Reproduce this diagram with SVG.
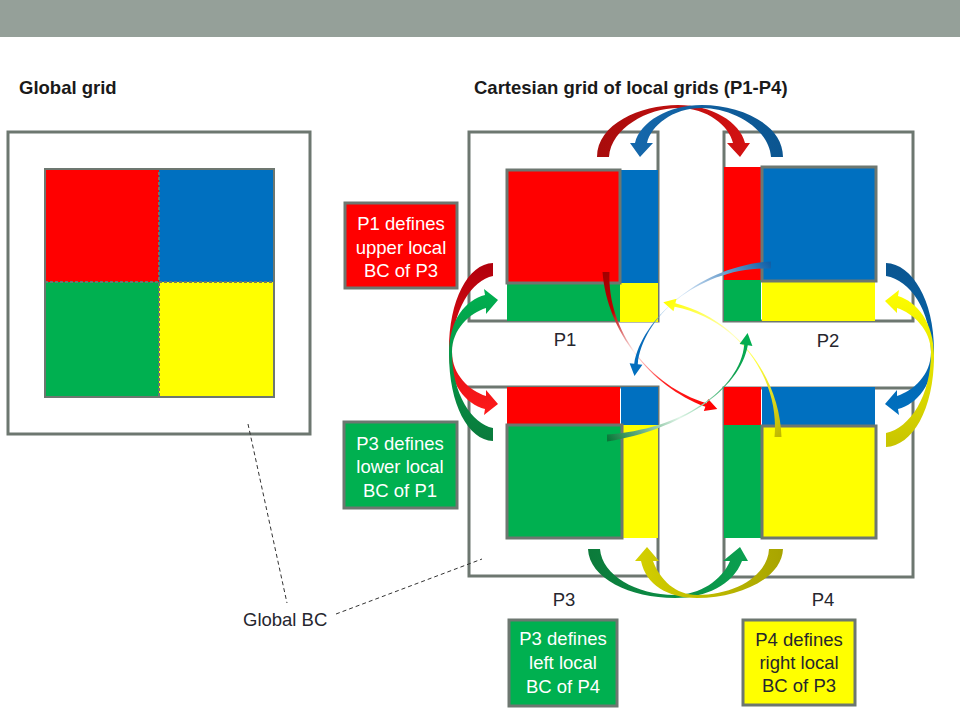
<svg xmlns="http://www.w3.org/2000/svg" width="960" height="720" viewBox="0 0 960 720">
<style>
.box{fill:none;stroke:#6D7770;stroke-width:3}
.bord{stroke:#6D7770;stroke-width:3}
.r{fill:#FF0000}.b{fill:#0070C0}.g{fill:#00B050}.y{fill:#FFFF00}
.t{font-family:"Liberation Sans",Arial,sans-serif;font-size:18.5px;fill:#26262E}
.title{font-weight:bold;fill:#1A1A1A}
.c{text-anchor:middle}
.w{fill:#FFFFFF}
.dash{fill:none;stroke:#333333;stroke-width:1;stroke-dasharray:4,3}
</style>
<defs>
<linearGradient id="gRt" gradientUnits="userSpaceOnUse" x1="597" y1="0" x2="750" y2="0"><stop offset="0" stop-color="#A80C0C"/><stop offset="1" stop-color="#D41212"/></linearGradient>
<linearGradient id="gBt" gradientUnits="userSpaceOnUse" x1="783" y1="0" x2="630" y2="0"><stop offset="0" stop-color="#0B5590"/><stop offset="1" stop-color="#1568AC"/></linearGradient>
<linearGradient id="gRl" gradientUnits="userSpaceOnUse" x1="0" y1="263" x2="0" y2="415"><stop offset="0" stop-color="#B0000C"/><stop offset="1" stop-color="#FF1A1A"/></linearGradient>
<linearGradient id="gGl" gradientUnits="userSpaceOnUse" x1="0" y1="441" x2="0" y2="289"><stop offset="0" stop-color="#0A7A3C"/><stop offset="1" stop-color="#00B050"/></linearGradient>
<linearGradient id="gBr" gradientUnits="userSpaceOnUse" x1="0" y1="263" x2="0" y2="415"><stop offset="0" stop-color="#0B5590"/><stop offset="1" stop-color="#0070C0"/></linearGradient>
<linearGradient id="gYr" gradientUnits="userSpaceOnUse" x1="0" y1="447" x2="0" y2="289"><stop offset="0" stop-color="#C8C400"/><stop offset="1" stop-color="#FFFF00"/></linearGradient>
<linearGradient id="gGb" gradientUnits="userSpaceOnUse" x1="588" y1="0" x2="748" y2="0"><stop offset="0" stop-color="#0C7A3A"/><stop offset="1" stop-color="#0AA050"/></linearGradient>
<linearGradient id="gYb" gradientUnits="userSpaceOnUse" x1="783" y1="0" x2="635" y2="0"><stop offset="0" stop-color="#A8A400"/><stop offset="1" stop-color="#D4D000"/></linearGradient>
<linearGradient id="gRc" gradientUnits="userSpaceOnUse" x1="606" y1="272" x2="717" y2="409"><stop offset="0" stop-color="#A00000"/><stop offset="0.2" stop-color="#C00000"/><stop offset="0.45" stop-color="#FFF0F0"/><stop offset="0.7" stop-color="#FF2020"/><stop offset="1" stop-color="#FF0000"/></linearGradient>
<linearGradient id="gBc" gradientUnits="userSpaceOnUse" x1="771" y1="265" x2="634" y2="376"><stop offset="0" stop-color="#1060A8"/><stop offset="0.5" stop-color="#D8E8F8"/><stop offset="0.8" stop-color="#0A6AB8"/><stop offset="1" stop-color="#0070C0"/></linearGradient>
<linearGradient id="gYc" gradientUnits="userSpaceOnUse" x1="778" y1="437" x2="663" y2="302"><stop offset="0" stop-color="#C0B800"/><stop offset="0.4" stop-color="#FFFF40"/><stop offset="0.6" stop-color="#FFFFC0"/><stop offset="1" stop-color="#FFFF00"/></linearGradient>
<linearGradient id="gGc" gradientUnits="userSpaceOnUse" x1="607" y1="438" x2="748" y2="333"><stop offset="0" stop-color="#087838"/><stop offset="0.4" stop-color="#E0F5E8"/><stop offset="0.8" stop-color="#10A050"/><stop offset="1" stop-color="#00B050"/></linearGradient>
</defs>
<rect x="0" y="0" width="960" height="37" fill="#95A099"/>
<text class="t title" x="19" y="94">Global grid</text>
<text class="t title" x="474" y="94">Cartesian grid of local grids (P1-P4)</text>
<g id="global-grid">
<rect class="box" x="8" y="132" width="302" height="302"/>
<rect class="r" x="45" y="169" width="114" height="113"/>
<rect class="b" x="159" y="169" width="115" height="113"/>
<rect class="g" x="45" y="282" width="114" height="115"/>
<rect class="y" x="159" y="282" width="115" height="115"/>
<rect x="45" y="169" width="229" height="228" fill="none" stroke="#6D7770" stroke-width="2"/>
<rect x="159" y="169" width="115" height="113" fill="none" stroke="#6D7770" stroke-width="2" stroke-dasharray="3,2"/>
<rect x="45" y="282" width="114" height="115" fill="none" stroke="#6D7770" stroke-width="2" stroke-dasharray="3,2"/>
</g>
<g id="p1">
<rect class="box" x="469" y="132" width="189" height="189"/>
<rect class="b" x="620" y="170" width="38" height="113"/>
<rect class="g" x="507" y="283" width="113" height="38"/>
<rect class="y" x="620" y="283" width="38" height="39"/>
<rect class="r bord" x="507" y="170" width="113" height="113"/>
<text class="t c" x="565" y="346">P1</text>
</g>
<g id="p2">
<rect class="box" x="724" y="132" width="189" height="189"/>
<rect class="r" x="724" y="167" width="38" height="113"/>
<rect class="g" x="724" y="280" width="37" height="41"/>
<rect class="y" x="762" y="280" width="113" height="41"/>
<rect class="b bord" x="762" y="167" width="114" height="114"/>
<text class="t c" x="828" y="347">P2</text>
</g>
<g id="p3">
<rect class="box" x="469" y="387" width="189" height="189"/>
<rect class="r" x="507" y="387" width="113" height="38"/>
<rect class="b" x="621" y="387" width="37" height="38"/>
<rect class="y" x="622" y="425" width="36" height="113"/>
<rect class="g bord" x="507" y="425" width="115" height="113"/>
<text class="t c" x="564" y="606">P3</text>
</g>
<g id="p4">
<rect class="box" x="724" y="388" width="189" height="189"/>
<rect class="r" x="724" y="387" width="37" height="38"/>
<rect class="b" x="762" y="387" width="113" height="38"/>
<rect class="g" x="724" y="425" width="38" height="113"/>
<rect class="y bord" x="762" y="426" width="114" height="112"/>
<text class="t c" x="823" y="606">P4</text>
</g>
<g id="label-p1-upper">
<rect class="r bord" x="345" y="203" width="112" height="85"/>
<text class="t c w" x="401" y="229.5">P1 defines</text>
<text class="t c w" x="401" y="253.5">upper local</text>
<text class="t c w" x="401" y="277">BC of P3</text>
</g>
<g id="label-p3-lower">
<rect class="g bord" x="344" y="422" width="113" height="86"/>
<text class="t c w" x="400" y="449.5">P3 defines</text>
<text class="t c w" x="400" y="473">lower local</text>
<text class="t c w" x="400" y="496.5">BC of P1</text>
</g>
<g id="label-p3-left">
<rect class="g bord" x="509" y="620" width="108" height="86"/>
<text class="t c w" x="563" y="644.5">P3 defines</text>
<text class="t c w" x="563" y="668.5">left local</text>
<text class="t c w" x="563" y="692.5">BC of P4</text>
</g>
<g id="label-p4-right">
<rect class="y bord" x="743" y="620" width="112" height="85"/>
<text class="t c" x="799" y="646">P4 defines</text>
<text class="t c" x="799" y="669">right local</text>
<text class="t c" x="799" y="692">BC of P3</text>
</g>
<g id="global-bc">
<text class="t" x="243" y="625.5">Global BC</text>
</g>
<g id="connectors">
<line class="dash" x1="248" y1="424" x2="287" y2="603"/>
<line class="dash" x1="336" y1="614" x2="482" y2="559"/>
<path fill="url(#gRt)" d="M597,157 C597,124 640,105 678,105 C712,105 740,122 745,143 L750,143 L740,157 L727,143 L733,143 C729,126 708,108 678,108 C648,108 611,128 609,157 Z"/>
<path fill="url(#gBt)" d="M783,157 C783,124 740,105 702,105 C668,105 640,122 635,143 L630,143 L640,157 L653,143 L647,143 C651,126 672,108 702,108 C732,108 769,128 771,157 Z"/>
<path fill="url(#gRl)" d="M493,263 C468,264 449,300 449,350 C449,385 466,404 485,409 L484,415 L498,404 L486,390 L486,396 C470,391 452,375 452,352 C452,310 472,280 493,276 Z"/>
<path fill="url(#gGl)" d="M493,441 C468,440 449,404 449,354 C449,319 466,300 485,295 L484,289 L498,300 L486,314 L486,308 C470,313 452,329 452,352 C452,394 472,424 493,428 Z"/>
<path fill="url(#gBr)" d="M886,263 C912,264 934,300 934,350 C934,385 917,404 898,409 L899,415 L885,404 L897,390 L897,396 C913,391 931,375 931,352 C931,310 910,280 886,276 Z"/>
<path fill="url(#gYr)" d="M886,447 C912,446 934,410 934,356 C934,322 917,302 898,296 L899,290 L885,301 L897,313 L897,308 C913,313 931,330 931,352 C931,396 910,428 886,433 Z"/>
<path fill="url(#gGb)" d="M588,549 C589,578 630,598 675,598 C705,598 733,585 742,561 L748,561 L740,547 L723,561 L730,561 C722,580 700,595 675,595 C636,595 602,575 600,549 Z"/>
<path fill="url(#gYb)" d="M783,549 C782,578 740,598 697,598 C668,598 646,585 641,561 L635,561 L647,547 L659,561 L653,561 C660,580 676,595 697,595 C736,595 768,575 769,549 Z"/>
<path fill="url(#gRc)" d="M602.5,272 C607,331 650,386 705.4,406.7 L703.8,411.1 L717.3,409 L708.2,398.9 L706.6,403.3 C650,386 607,331 609.5,272 Z"/>
<path fill="url(#gBc)" d="M771,261.5 C700,266 642,318 637.8,364.2 L642.4,364.8 L634.5,375.9 L629.6,363.2 L634.2,363.8 C642,318 700,266 771,268.5 Z"/>
<path fill="url(#gYc)" d="M781.5,437 C780,380 740,320 675.4,303.2 L676.5,298.7 L663.3,302.3 L673.5,311.3 L674.6,306.8 C740,320 780,380 774.5,437 Z"/>
<path fill="url(#gGc)" d="M607,441.5 C680,430 740,390 747.8,345.2 L752.4,345.9 L747.6,333.1 L739.6,344.1 L744.2,344.8 C740,390 680,430 607,434.5 Z"/>
</g>
</svg>
